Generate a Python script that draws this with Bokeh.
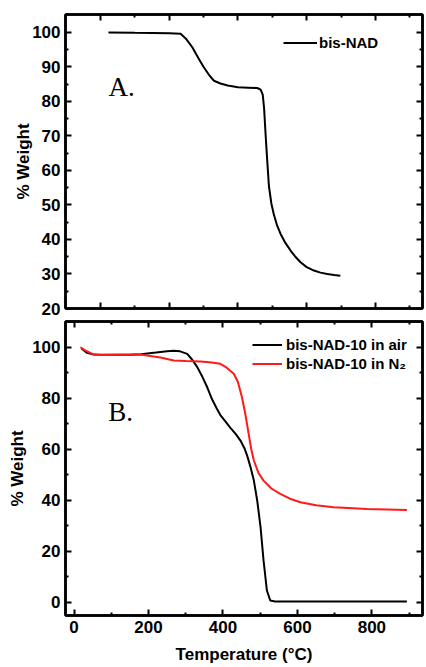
from bokeh.plotting import figure
from bokeh.models import (LinearAxis, Legend, LegendItem, Label, FixedTicker,
                          CustomJSTickFormatter, Range1d)
from bokeh.layouts import column
from bokeh.embed import file_html
from bokeh.resources import INLINE

# ---------------- data ----------------
# Panel A: bis-NAD
a_temp = [23, 100, 200, 233, 250, 267, 285, 300, 315, 330, 349, 370, 400, 430,
          456, 466, 472, 476, 480, 485, 490, 497, 504, 514, 524, 538, 553, 567,
          582, 600, 621, 640, 660, 680, 698]
a_weight = [100, 99.9, 99.8, 99.6, 98, 95.7, 92.5, 90, 87.8, 86, 85.2, 84.6, 84.1,
            84.0, 83.9, 83.4, 82, 78, 71, 63, 55.5, 50.5, 47.4, 44, 41.6, 39,
            36.8, 35, 33.4, 32, 31, 30.4, 30, 29.7, 29.5]

# Panel B: bis-NAD-10 in air
air_temp = [20, 35, 50, 100, 150, 180, 220, 250, 268, 285, 304, 318, 331, 345,
            358, 371, 384, 393, 407, 420, 434, 447, 458, 465, 474, 483, 492, 501,
            509, 518, 527, 540, 600, 700, 800, 894]
air_weight = [99.5, 97.8, 97.2, 97.1, 97.1, 97.3, 97.9, 98.4, 98.6, 98.4, 97.4,
              95, 92.2, 88.3, 84.2, 79.5, 75.8, 73.4, 70.8, 68.4, 66, 63.4, 60.3,
              57.5, 53, 47.7, 39.9, 29.4, 16.4, 4.6, 0.7, 0.3, 0.3, 0.3, 0.3, 0.3]

# Panel B: bis-NAD-10 in N2
n2_temp = [17, 30, 49, 71, 120, 178, 232, 268, 300, 340, 370, 393, 410, 429, 440,
           451, 460, 469, 476, 483, 495, 509, 530, 554, 580, 608, 650, 697, 750,
           787, 840, 894]
n2_weight = [100, 98.8, 97.4, 97, 97.1, 97.2, 96, 94.8, 94.6, 94.4, 94.0, 93.5,
             92, 89.6, 86.5, 80.4, 73.9, 66, 60, 55.6, 50.8, 47.7, 44.6, 42.5,
             40.6, 39.2, 38, 37.3, 36.9, 36.6, 36.4, 36.2]

a_yticks = [20, 30, 40, 50, 60, 70, 80, 90, 100]
a_yminor = [25, 35, 45, 55, 65, 75, 85, 95]
a_xticks = [0, 200, 400, 600, 800]
a_xminor = [100, 300, 500, 700, 900]
b_yticks = [0, 20, 40, 60, 80, 100]
b_yminor = [10, 30, 50, 70, 90]
b_xticks = [0, 200, 400, 600, 800]
b_xminor = [100, 300, 500, 700, 900]

FONT = "Liberation Sans"
FW = 357


def style_axis(ax, ticks, minor, labels=True, label_text=None):
    ax.ticker = FixedTicker(ticks=ticks, minor_ticks=minor)
    ax.axis_line_color = "black"
    ax.axis_line_width = 2.5
    ax.major_tick_in = 6
    ax.major_tick_out = 0
    ax.minor_tick_in = 3
    ax.minor_tick_out = 0
    ax.major_tick_line_width = 2
    ax.minor_tick_line_width = 2
    ax.major_tick_line_color = "black"
    ax.minor_tick_line_color = "black"
    if labels:
        ax.major_label_text_font = FONT
        ax.major_label_text_font_style = "bold"
        ax.major_label_text_font_size = "17px"
        ax.major_label_text_color = "black"
        ax.major_label_standoff = 5
    else:
        ax.formatter = CustomJSTickFormatter(code="return ''")
        ax.major_label_standoff = 0
        ax.major_label_text_font_size = "1px"
    if label_text:
        ax.axis_label = label_text
        ax.axis_label_text_font = FONT
        ax.axis_label_text_font_style = "bold"
        ax.axis_label_text_font_size = "17px"
        ax.axis_label_text_color = "black"
        ax.axis_label_standoff = 4


# ---------------- panel A ----------------
pA = figure(frame_width=FW, frame_height=294,
            x_range=Range1d(-102, 937), y_range=Range1d(20, 105.2),
            output_backend="svg", toolbar_location=None,
            min_border_left=65, min_border_right=4, min_border_top=14,
            min_border_bottom=10, x_axis_location=None, y_axis_location=None)
pA.grid.visible = False
pA.outline_line_color = "black"
pA.outline_line_width = 2.5

axA_left = LinearAxis()
style_axis(axA_left, a_yticks, a_yminor, True, "% Weight")
axA_left.axis_label_standoff = -4
pA.add_layout(axA_left, "left")
axA_right = LinearAxis()
style_axis(axA_right, a_yticks, a_yminor, False)
pA.add_layout(axA_right, "right")
axA_bottom = LinearAxis()
style_axis(axA_bottom, a_xticks, a_xminor, False)
pA.add_layout(axA_bottom, "below")
axA_top = LinearAxis()
style_axis(axA_top, a_xticks, a_xminor, False)
pA.add_layout(axA_top, "above")

rA = pA.line(a_temp, a_weight, line_color="black", line_width=2)

legA = Legend(items=[LegendItem(label="bis-NAD", renderers=[rA])],
              location=(218, 294 - 19 - 19),
              border_line_color=None, background_fill_alpha=0,
              label_text_font=FONT, label_text_font_style="bold",
              label_text_font_size="15px", label_text_color="black",
              glyph_width=34, glyph_height=19, label_height=19,
              label_standoff=2, padding=0, margin=0, spacing=0)
pA.add_layout(legA)

pA.add_layout(Label(x=23, y=84.3, text="A.", text_font="Liberation Serif",
                    text_font_size="27px", text_color="black",
                    text_baseline="alphabetic"))

# ---------------- panel B ----------------
pB = figure(frame_width=FW, frame_height=294,
            x_range=Range1d(-23, 936), y_range=Range1d(-5.2, 110.1),
            output_backend="svg", toolbar_location=None,
            min_border_left=65, min_border_right=4, min_border_top=3,
            min_border_bottom=51, x_axis_location=None, y_axis_location=None)
pB.grid.visible = False
pB.outline_line_color = "black"
pB.outline_line_width = 2.5

axB_left = LinearAxis()
style_axis(axB_left, b_yticks, b_yminor, True, "% Weight")
axB_left.axis_label_standoff = 2
pB.add_layout(axB_left, "left")
axB_right = LinearAxis()
style_axis(axB_right, b_yticks, b_yminor, False)
pB.add_layout(axB_right, "right")
axB_bottom = LinearAxis()
style_axis(axB_bottom, b_xticks, b_xminor, True, "Temperature (°C)")
axB_bottom.axis_label_standoff = 9
pB.add_layout(axB_bottom, "below")
axB_top = LinearAxis()
style_axis(axB_top, b_xticks, b_xminor, False)
pB.add_layout(axB_top, "above")

rAir = pB.line(air_temp, air_weight, line_color="black", line_width=2)
rN2 = pB.line(n2_temp, n2_weight, line_color="#ff1a1a", line_width=2)

legB = Legend(items=[LegendItem(label="bis-NAD-10 in air", renderers=[rAir]),
                     LegendItem(label="bis-NAD-10 in N₂", renderers=[rN2])],
              location=(187, 294 - 14 - 38),
              border_line_color=None, background_fill_alpha=0,
              label_text_font=FONT, label_text_font_style="bold",
              label_text_font_size="15px", label_text_color="black",
              glyph_width=30, glyph_height=19, label_height=19,
              label_standoff=4, padding=0, margin=0, spacing=0)
pB.add_layout(legB)

pB.add_layout(Label(x=92, y=74.8, text="B.", text_font="Liberation Serif",
                    text_font_size="27px", text_color="black",
                    text_baseline="alphabetic"))

layout = column(pA, pB, spacing=0)
open("out.html", "w").write(file_html(layout, INLINE))
